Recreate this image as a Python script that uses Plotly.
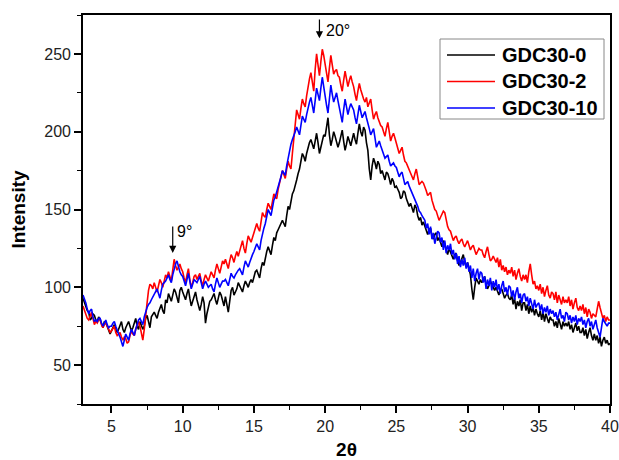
import plotly.graph_objects as go

# 2-theta grid: 3.0 to 40.0 in 0.1 degree steps (intensities)
two_theta = [round(3.0 + 0.1 * i, 1) for i in range(371)]

gdc30_0 = [
    93, 90, 87, 85, 84, 79, 80, 83, 82, 79,
    78, 81, 79, 76, 74, 78, 77, 75, 73, 70,
    72, 74, 76, 73, 71, 73, 75, 78, 73, 71,
    74, 76, 78, 75, 72, 74, 77, 80, 75, 73,
    78, 76, 73, 75, 80, 82, 77, 74, 81, 83,
    84, 82, 80, 84, 87, 89, 85, 83, 92, 90,
    96, 93, 91, 95, 99, 97, 94, 90, 98, 100,
    97, 94, 92, 96, 99, 93, 88, 91, 95, 97,
    92, 88, 85, 89, 94, 90, 77, 83, 88, 91,
    92, 94, 96, 92, 89, 93, 97, 95, 91, 88,
    94, 89, 84, 91, 98, 100, 95, 97, 99, 103,
    101, 99, 97, 101, 104, 102, 100, 103, 105, 103,
    107, 110, 111, 108, 106, 112, 116, 114, 120, 123,
    126, 124, 121, 127, 132, 130, 135, 137, 139, 141,
    143, 141, 139, 146, 152, 150, 156, 160, 162, 165,
    169, 173, 176, 181, 186, 184, 181, 186, 190, 193,
    195, 192, 189, 194, 199, 193, 186, 190, 195, 198,
    197, 203, 209, 198, 191, 195, 200, 197, 194, 190,
    193, 197, 201, 194, 188, 192, 197, 194, 191, 195,
    199, 195, 192, 199, 205, 200, 197, 203, 201, 193,
    188, 176, 169, 178, 183, 180, 176, 181, 179, 173,
    175, 172, 169, 174, 173, 170, 166, 170, 168, 164,
    165, 163, 161, 157, 158, 162, 161, 157, 155, 152,
    154, 151, 148, 153, 151, 146, 143, 145, 140, 142,
    139, 136, 134, 137, 138, 133, 131, 134, 135, 130,
    132, 129, 126, 130, 128, 124, 121, 125, 123, 120,
    118, 121, 122, 117, 114, 116, 119, 121, 116, 113,
    116, 112, 108, 99, 92, 100, 106, 104, 102, 105,
    103, 105, 107, 102, 99, 101, 104, 102, 100, 98,
    100, 97, 95, 98, 99, 96, 93, 95, 96, 93,
    92, 95, 89, 93, 86, 91, 88, 92, 85, 90,
    90, 85, 89, 83, 88, 84, 87, 82, 86, 83,
    81, 85, 79, 84, 78, 83, 80, 77, 81, 79,
    79, 75, 78, 74, 80, 76, 73, 78, 75, 77,
    75, 78, 73, 76, 71, 74, 77, 72, 75, 71,
    71, 74, 69, 73, 67, 71, 74, 69, 66, 70,
    66, 69, 64, 68, 62, 66, 68, 64, 66, 63,
    64,
]

gdc30_2 = [
    88, 85, 82, 80, 79, 82, 84, 80, 76, 78,
    77, 79, 80, 76, 74, 76, 78, 75, 73, 71,
    72, 74, 75, 71, 69, 70, 71, 68, 66, 68,
    67, 64, 65, 69, 72, 70, 69, 73, 76, 78,
    75, 70, 66, 73, 80, 90, 98, 102, 101, 99,
    103, 100, 97, 101, 105, 103, 100, 104, 108, 106,
    110, 107, 104, 111, 118, 114, 111, 113, 115, 112,
    110, 106, 103, 108, 112, 105, 100, 103, 107, 108,
    105, 107, 109, 104, 101, 105, 108, 106, 104, 107,
    110, 108, 106, 111, 115, 112, 109, 113, 117, 115,
    118, 115, 112, 117, 121, 119, 116, 120, 123, 120,
    124, 127, 130, 125, 122, 128, 133, 131, 129, 132,
    135, 138, 141, 138, 136, 142, 148, 146, 145, 150,
    154, 152, 150, 155, 160, 158, 157, 163, 168, 171,
    175, 172, 170, 176, 181, 178, 176, 186, 196, 207,
    214, 211, 208, 215, 221, 218, 216, 223, 230, 234,
    238, 232, 226, 240, 250, 243, 236, 245, 253, 249,
    244, 238, 232, 241, 249, 243, 237, 239, 240, 236,
    235, 230, 226, 233, 239, 234, 229, 233, 236, 232,
    229, 224, 220, 226, 231, 227, 223, 221, 219, 222,
    216, 219, 221, 214, 208, 211, 213, 209, 206, 204,
    203, 200, 197, 202, 206, 200, 194, 197, 199, 196,
    193, 189, 186, 188, 190, 185, 181, 180, 178, 176,
    174, 171, 169, 173, 176, 171, 166, 167, 168, 167,
    165, 162, 159, 160, 161, 156, 152, 150, 149, 146,
    143, 145, 147, 149, 148, 143, 139, 137, 136, 133,
    130, 132, 133, 130, 128, 130, 131, 128, 126, 128,
    130, 127, 124, 126, 127, 124, 121, 123, 125, 124,
    124, 121, 119, 123, 126, 121, 117, 118, 120, 118,
    116, 119, 113, 118, 111, 114, 110, 113, 108, 111,
    109, 113, 107, 111, 105, 109, 112, 107, 104, 108,
    105, 108, 103, 110, 115, 108, 102, 104, 99, 101,
    98, 102, 96, 100, 94, 98, 101, 95, 93, 97,
    96, 92, 97, 90, 95, 92, 89, 94, 90, 92,
    90, 94, 88, 92, 86, 90, 93, 87, 85, 88,
    85, 89, 83, 87, 81, 86, 84, 80, 83, 82,
    81, 86, 91, 87, 84, 80, 82, 78, 81, 79,
    79,
]

gdc30_10 = [
    95, 93, 90, 86, 83, 85, 86, 81, 78, 79,
    78, 80, 80, 77, 75, 77, 79, 76, 74, 75,
    75, 77, 78, 75, 72, 70, 68, 65, 62, 66,
    70, 68, 66, 70, 73, 71, 69, 73, 77, 79,
    80, 78, 76, 81, 85, 87, 89, 90, 92, 94,
    95, 97, 99, 96, 93, 98, 102, 103, 104, 106,
    108, 105, 103, 108, 112, 115, 117, 113, 110, 108,
    107, 104, 101, 105, 109, 104, 99, 102, 105, 104,
    103, 105, 107, 103, 99, 102, 104, 102, 100, 101,
    102, 99, 97, 102, 106, 103, 100, 102, 104, 104,
    105, 103, 101, 105, 109, 107, 106, 108, 110, 111,
    112, 110, 108, 113, 117, 115, 113, 116, 119, 121,
    123, 126, 128, 126, 124, 130, 135, 138, 141, 146,
    150, 148, 146, 151, 156, 158, 161, 165, 168, 171,
    175, 173, 172, 178, 183, 188, 192, 195, 197, 200,
    203, 200, 198, 204, 210, 208, 206, 211, 216, 219,
    222, 217, 212, 220, 228, 224, 220, 228, 235, 229,
    222, 217, 212, 221, 230, 224, 219, 222, 225, 220,
    216, 211, 206, 214, 221, 216, 211, 215, 218, 216,
    214, 209, 205, 211, 217, 213, 209, 211, 213, 209,
    206, 202, 198, 200, 202, 196, 190, 192, 194, 191,
    188, 185, 183, 184, 185, 181, 178, 179, 180, 178,
    177, 174, 171, 173, 174, 170, 166, 167, 168, 165,
    163, 160, 158, 157, 155, 152, 149, 148, 146, 144,
    143, 138, 141, 134, 139, 131, 135, 128, 133, 136,
    135, 129, 132, 124, 130, 122, 127, 124, 128, 121,
    124, 118, 122, 115, 120, 113, 118, 114, 119, 112,
    116, 110, 114, 106, 112, 104, 109, 112, 105, 110,
    109, 103, 107, 99, 105, 101, 106, 98, 104, 100,
    105, 98, 102, 96, 101, 104, 97, 100, 95, 101,
    100, 94, 98, 92, 97, 100, 93, 96, 90, 95,
    96, 91, 94, 88, 93, 90, 86, 92, 87, 89,
    90, 85, 89, 83, 87, 84, 88, 82, 86, 83,
    85, 81, 84, 79, 83, 86, 80, 82, 78, 84,
    83, 79, 82, 77, 81, 78, 82, 76, 80, 78,
    81, 76, 79, 74, 78, 80, 75, 78, 73, 77,
    79, 74, 70, 68, 74, 80, 78, 76, 75, 77,
    77,
]

series_names = ["GDC30-0", "GDC30-2", "GDC30-10"]
series_colors = ["#000000", "#ff0000", "#0000ff"]
series_values = [gdc30_0, gdc30_2, gdc30_10]

x_ticks = [5, 10, 15, 20, 25, 30, 35, 40]
y_ticks = [50, 100, 150, 200, 250]

FONT = "Liberation Sans, Arial, sans-serif"

fig = go.Figure()
for name, color, vals in zip(series_names, series_colors, series_values):
    fig.add_trace(go.Scatter(x=two_theta, y=vals, mode="lines", name=name,
                             line=dict(color=color, width=1.6), showlegend=False))

axis_common = dict(showline=True, linecolor="black", linewidth=1.6, mirror=True,
                   ticks="outside", tickcolor="black", tickwidth=1.5, ticklen=7,
                   showgrid=False, zeroline=False, automargin=False,
                   ticklabeloverflow="allow",
                   tickfont=dict(family=FONT, size=16, color="#222"))

fig.update_xaxes(range=[3, 40], tickvals=x_ticks,
                 minor=dict(ticks="outside", dtick=2.5, ticklen=4, tickcolor="black", tickwidth=1.3),
                 title=dict(text="<b>2θ</b>", font=dict(family=FONT, size=19, color="black"), standoff=9),
                 **axis_common)
fig.update_yaxes(range=[25, 275], tickvals=y_ticks,
                 minor=dict(ticks="outside", dtick=25, ticklen=4, tickcolor="black", tickwidth=1.3),
                 title=dict(text="<b>Intensity</b>", font=dict(family=FONT, size=19, color="black"), standoff=14),
                 **axis_common)

# arrows
fig.add_annotation(x=9.3, y=122, ax=9.3, ay=140, xref="x", yref="y", axref="x", ayref="y",
                   text="", showarrow=True, arrowhead=2, arrowsize=1.2, arrowwidth=1.2, arrowcolor="black")
fig.add_annotation(x=10.1, y=136, xref="x", yref="y", text="9°", showarrow=False,
                   font=dict(family=FONT, size=16, color="black"))
fig.add_annotation(x=19.6, y=260, ax=19.6, ay=273, xref="x", yref="y", axref="x", ayref="y",
                   text="", showarrow=True, arrowhead=2, arrowsize=1.2, arrowwidth=1.2, arrowcolor="black")
fig.add_annotation(x=20.9, y=265, xref="x", yref="y", text="20°", showarrow=False,
                   font=dict(family=FONT, size=16, color="black"))

# legend box drawn in pixel-equivalent paper coordinates
L, R, T, B = 83, 9, 15, 56
W, H = 619, 460
pw, ph = W - L - R, H - T - B

def px(xp):
    return (xp - L) / pw

def py(yp):
    return (H - B - yp) / ph

fig.add_shape(type="rect", xref="paper", yref="paper",
              x0=px(440), x1=px(604), y0=py(119), y1=py(39),
              line=dict(color="#888", width=1), fillcolor="white", layer="above")
for i, (name, color) in enumerate(zip(series_names, series_colors)):
    yy = 55 + i * 26.5
    fig.add_shape(type="line", xref="paper", yref="paper",
                  x0=px(447), x1=px(495), y0=py(yy), y1=py(yy),
                  line=dict(color=color, width=1.4), layer="above")
    fig.add_annotation(xref="paper", yref="paper", x=px(500), y=py(yy),
                       xanchor="left", yanchor="middle", showarrow=False,
                       text="<b>" + name + "</b>",
                       font=dict(family=FONT, size=20, color="black"))

fig.update_layout(
    width=W, height=H,
    margin=dict(l=L, r=R, t=T, b=B),
    paper_bgcolor="white", plot_bgcolor="white",
    showlegend=False,
)

fig.write_html("out.html", config={"displayModeBar": False},
               post_script="document.body.style.margin='0';")
